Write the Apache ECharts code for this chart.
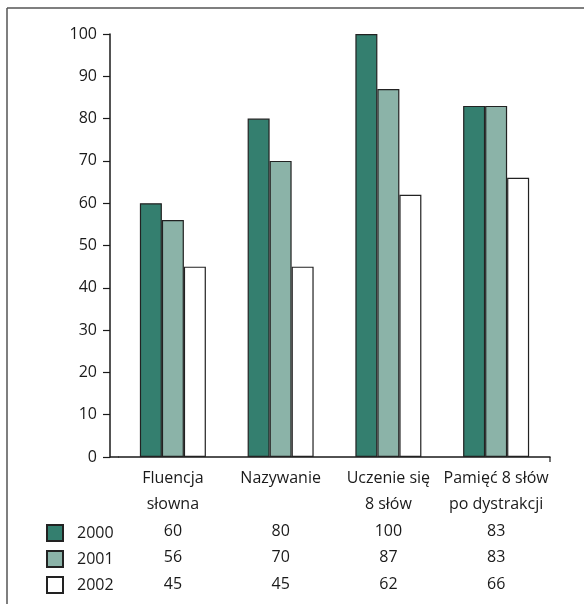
<!DOCTYPE html>
<html><head><meta charset="utf-8">
<script src="https://cdn.jsdelivr.net/npm/echarts@6/dist/echarts.min.js"></script>
<style>html,body{margin:0;padding:0;background:#fff}#c{width:584px;height:604px}</style>
</head><body><div id="c"></div>
<script>
const categories = ['Fluencja\nsłowna', 'Nazywanie', 'Uczenie się\n8 słów', 'Pamięć 8 słów\npo dystrakcji'];
const years = ['2000', '2001', '2002'];
const values2000 = [60, 80, 100, 83];
const values2001 = [56, 70, 87, 83];
const values2002 = [45, 45, 62, 66];
const yMin = 0, yMax = 100, yStep = 10;

const seriesValues = [values2000, values2001, values2002];
const fills = ['#347f6f', '#8bb3a8', '#ffffff'];
const FONT = '"Open Sans", "Noto Sans", sans-serif';
const TXT = '#1a1a1a';

const chart = echarts.init(document.getElementById('c'), null, {renderer: 'canvas'});
const GL = 119, GR = 550, GT = 34, GB = 457;

chart.setOption({
  animation: false,
  backgroundColor: '#fff',
  textStyle: {fontFamily: FONT},
  grid: {left: GL, top: GT, width: GR - GL, height: GB - GT, containLabel: false},
  legend: {
    data: years, orient: 'vertical', left: 46, top: 524, padding: 0,
    itemWidth: 16, itemHeight: 16, itemGap: 8, icon: 'rect', selectedMode: false,
    textStyle: {fontSize: 16, color: TXT, fontFamily: FONT, padding: [0, 0, 0, 9]}
  },
  xAxis: {
    type: 'category', data: categories,
    axisLine: {show: true, lineStyle: {color: TXT, width: 1.5}},
    axisTick: {show: false},
    axisLabel: {
      interval: 0, fontSize: 16, color: TXT, fontFamily: FONT, lineHeight: 26.5, margin: 8,
      formatter: function (v, i) {
        const lines = v.split('\n');
        while (lines.length < 2) lines.push(' ');
        return lines.concat(seriesValues.map(a => String(a[i]))).join('\n');
      }
    }
  },
  yAxis: {
    type: 'value', min: yMin, max: yMax, interval: yStep, offset: GL - 110,
    axisLine: {show: true, lineStyle: {color: TXT, width: 1.5}},
    axisTick: {show: true, length: 7, inside: false, lineStyle: {color: TXT, width: 1.2}},
    axisLabel: {fontSize: 16, color: TXT, fontFamily: FONT, margin: 13},
    splitLine: {show: false}
  },
  series: years.map((y, k) => ({
    name: y, type: 'bar', data: seriesValues[k], barWidth: 22, barGap: '0%',
    itemStyle: {color: fills[k], borderColor: '#222', borderWidth: 1.2}
  }))
});

const y0 = chart.convertToPixel({yAxisIndex: 0}, yMin);
chart.setOption({
  graphic: [
    {type: 'line', shape: {x1: 110, y1: y0, x2: GL, y2: y0}, style: {stroke: TXT, lineWidth: 1.5}},
    {type: 'line', shape: {x1: GR, y1: y0, x2: GR, y2: y0 + 5}, style: {stroke: TXT, lineWidth: 1.2}},
    {type: 'line', shape: {x1: 7, y1: 8, x2: 584, y2: 8}, style: {stroke: '#555', lineWidth: 1.5}},
    {type: 'line', shape: {x1: 7, y1: 8, x2: 7, y2: 604}, style: {stroke: '#555', lineWidth: 1.5}}
  ]
});
</script></body></html>
